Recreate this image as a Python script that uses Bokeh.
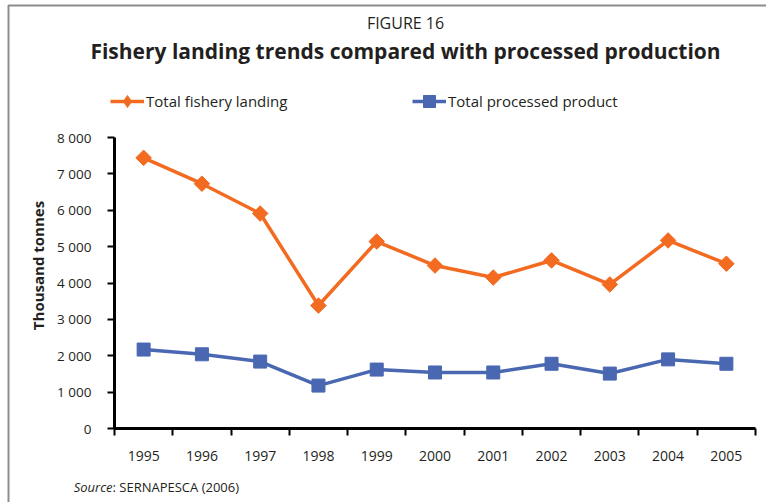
import math
from bokeh.plotting import figure
from bokeh.models import FixedTicker, Legend, LegendItem, Range1d, Label
from bokeh.embed import file_html
from bokeh.resources import INLINE

years = [1995, 1996, 1997, 1998, 1999, 2000, 2001, 2002, 2003, 2004, 2005]
landing = [7440, 6730, 5910, 3380, 5140, 4480, 4150, 4620, 3960, 5170, 4530]
processed = [2170, 2040, 1840, 1180, 1620, 1540, 1540, 1780, 1510, 1900, 1780]
y_ticks = [0, 1000, 2000, 3000, 4000, 5000, 6000, 7000, 8000]
y_tick_labels = ["0", "1 000", "2 000", "3 000", "4 000", "5 000", "6 000", "7 000", "8 000"]
series_names = ["Total fishery landing", "Total processed product"]
fig_label = "FIGURE 16"
title_text = "Fishery landing trends compared with processed production"
y_label = "Thousand tonnes"
source_italic = "Source"
source_rest = ": SERNAPESCA (2006)"

ORANGE = "#F26B21"
BLUE = "#4A67B1"
TXT = "#231F20"
FONT = "Open Sans"

# canvas and chart-area layout in pixels
W, H = 766, 502
AX_L, AX_R = 114, 755      # left / right of the axis box
AX_T, AX_B = 137, 428      # pixel rows of y=8000 and y=0
x0, x1 = years[0] - 0.5, years[-1] + 0.5
ymax = y_ticks[-1]
px_per_x = (AX_R - AX_L) / (x1 - x0)
px_per_y = (AX_B - AX_T) / ymax
x_start = x0 - AX_L / px_per_x
x_end = x_start + W / px_per_x
y_start = -(H - AX_B) / px_per_y
y_end = AX_B / px_per_y


def X(px):
    return x_start + px / px_per_x


def Y(py):
    return y_end - py / px_per_y


p = figure(width=W, height=H, output_backend="svg", toolbar_location=None, title=None,
           x_range=Range1d(x_start, x_end), y_range=Range1d(y_start, y_end),
           min_border=0, min_border_left=0, min_border_right=0, min_border_top=0,
           min_border_bottom=0)
p.outline_line_color = None
p.grid.visible = False
p.background_fill_color = "white"
p.border_fill_color = "white"

# frame border of the figure box
p.line([X(8), X(8), X(W)], [Y(H), Y(5), Y(5)], line_color="#8c8c8c", line_width=2)

xa = p.xaxis[0]
xa.fixed_location = 0
xa.bounds = (x0, x1)
xa.ticker = FixedTicker(ticks=years, minor_ticks=[y - 0.5 for y in years] + [x1])
xa.major_tick_out = 0
xa.major_tick_in = 0
xa.minor_tick_out = 7
xa.minor_tick_in = 0
xa.minor_tick_line_color = "black"
xa.minor_tick_line_width = 2
xa.axis_line_width = 3
xa.axis_line_color = "black"
xa.major_label_text_font = FONT
xa.major_label_text_font_size = "14px"
xa.major_label_text_color = TXT
xa.major_label_standoff = 15

ya = p.yaxis[0]
ya.fixed_location = x0
ya.bounds = (0, ymax)
ya.ticker = FixedTicker(ticks=y_ticks)
ya.major_label_overrides = {t: l for t, l in zip(y_ticks, y_tick_labels)}
ya.major_tick_out = 7
ya.major_tick_in = 0
ya.major_tick_line_width = 2
ya.minor_tick_out = 0
ya.minor_tick_in = 0
ya.axis_line_width = 3
ya.axis_line_color = "black"
ya.major_label_text_font = FONT
ya.major_label_text_font_size = "13.5px"
ya.major_label_text_color = TXT
ya.major_label_standoff = 16

l1 = p.line(years, landing, line_color=ORANGE, line_width=3.5)
m1 = p.scatter(years, landing, marker="square", angle=math.pi / 4, size=11,
               fill_color=ORANGE, line_color=ORANGE)
l2 = p.line(years, processed, line_color=BLUE, line_width=3.5)
m2 = p.scatter(years, processed, marker="square", size=13, fill_color=BLUE, line_color=BLUE)
# diamond swatch for the legend (drawn at zero size on the chart)
k1 = p.scatter(years, landing, marker="diamond", size=0, fill_color=ORANGE, line_color=ORANGE)

for name, rends, lx in [(series_names[0], [l1, k1], 110), (series_names[1], [l2, m2], 412)]:
    lg = Legend(items=[LegendItem(label=name, renderers=rends)], location=(lx, H - 116),
                padding=0, margin=0, spacing=0, glyph_width=34, glyph_height=30,
                label_height=30, label_standoff=2, border_line_color=None,
                background_fill_alpha=0, label_text_font=FONT, label_text_font_size="15px",
                label_text_color=TXT)
    p.add_layout(lg, "center")

p.add_layout(Label(x=37, y=H - 265, x_units="screen", y_units="screen", text=y_label,
                   angle=math.pi / 2, text_align="center", text_baseline="middle",
                   text_font=FONT, text_font_style="bold", text_font_size="15px",
                   text_color=TXT))
p.add_layout(Label(x=405, y=H - 22, x_units="screen", y_units="screen", text=fig_label,
                   text_align="center", text_baseline="middle", text_font=FONT,
                   text_font_size="16px", text_color=TXT))
p.add_layout(Label(x=405, y=H - 50, x_units="screen", y_units="screen", text=title_text,
                   text_align="center", text_baseline="middle", text_font=FONT,
                   text_font_style="bold", text_font_size="21px", text_color=TXT))
p.add_layout(Label(x=112, y=H - 486, x_units="screen", y_units="screen", text=source_italic,
                   text_align="right", text_baseline="middle", text_font=FONT,
                   text_font_style="italic", text_font_size="13px", text_color=TXT))
p.add_layout(Label(x=112, y=H - 486, x_units="screen", y_units="screen", text=source_rest,
                   text_align="left", text_baseline="middle", text_font=FONT,
                   text_font_size="13px", text_color=TXT))

open("out.html", "w").write(file_html(p, INLINE))
